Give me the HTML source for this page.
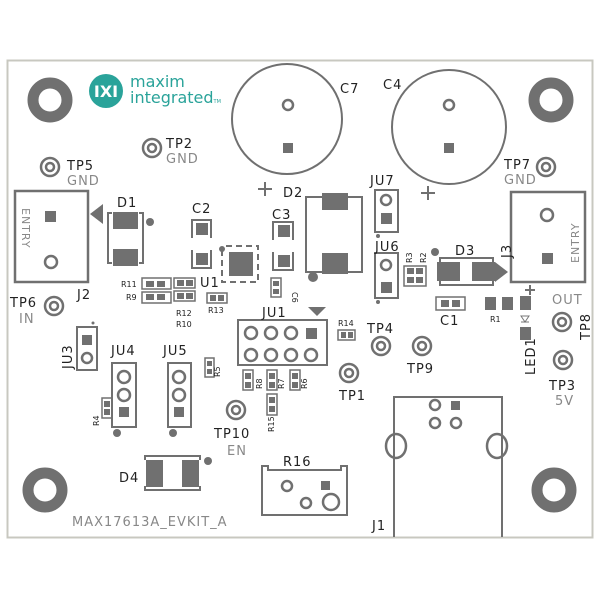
<!DOCTYPE html>
<html><head><meta charset="utf-8"><style>
html,body{margin:0;padding:0;background:#fff;}
svg{display:block;}
text{font-family:"DejaVu Sans","Liberation Sans",sans-serif;}
</style></head><body>
<svg width="600" height="600" viewBox="0 0 600 600" xmlns="http://www.w3.org/2000/svg">
<rect x="0" y="0" width="600" height="600" fill="#fff"/>
<rect x="7.5" y="60.5" width="585" height="477" fill="none" stroke="#c8c8c0" stroke-width="2"/>
<g fill="none" stroke="#707070" stroke-width="2.5">
<!-- mounting holes -->
<circle cx="50" cy="100" r="17" stroke-width="11"/>
<circle cx="551" cy="100" r="17" stroke-width="11"/>
<circle cx="45" cy="490" r="17" stroke-width="11"/>
<circle cx="554" cy="490" r="17" stroke-width="11"/>
<!-- C7 C4 -->
<circle cx="287" cy="119" r="55" stroke-width="2"/>
<circle cx="449" cy="127" r="57" stroke-width="2"/>
<circle cx="288" cy="105" r="5"/>
<circle cx="449" cy="105" r="5"/>
<!-- TPs -->
<circle cx="152" cy="148" r="9"/><circle cx="152" cy="148" r="4"/>
<circle cx="50" cy="167" r="9"/><circle cx="50" cy="167" r="4"/>
<circle cx="546" cy="167" r="9"/><circle cx="546" cy="167" r="4"/>
<circle cx="54" cy="306" r="9"/><circle cx="54" cy="306" r="4"/>
<circle cx="562" cy="322" r="9"/><circle cx="562" cy="322" r="4"/>
<circle cx="563" cy="360" r="9"/><circle cx="563" cy="360" r="4"/>
<circle cx="381" cy="346" r="9"/><circle cx="381" cy="346" r="4"/>
<circle cx="422" cy="346" r="9"/><circle cx="422" cy="346" r="4"/>
<circle cx="349" cy="373" r="9"/><circle cx="349" cy="373" r="4"/>
<circle cx="236" cy="410" r="9"/><circle cx="236" cy="410" r="4"/>
<!-- J2 -->
<rect x="15" y="191" width="73" height="91"/>
<circle cx="51" cy="262" r="6"/>
<!-- J3 -->
<rect x="511" y="192" width="74" height="90"/>
<circle cx="547" cy="215" r="6"/>
<!-- D1 bracket -->
<path d="M112 213 H108 V263 H112 M139 213 H143 V263 H139" stroke-width="2"/>
<!-- C2 C3 outlines -->
<path d="M192 238 V220 H211 V238 M192 250 V268 H211 V250" stroke-width="2"/>
<path d="M273 240 V222 H293 V240 M273 252 V270 H293 V252" stroke-width="2"/>
<!-- U1 -->
<path d="M226 246 H258 V282 H222 V250" stroke-width="2" stroke-dasharray="6 4"/>
<!-- D2 -->
<path d="M322 197 H306 V272 H322 M348 197 H362 V272 H348" stroke-width="2"/>
<!-- JU7 JU6 -->
<rect x="375" y="190" width="23" height="42" stroke-width="2"/>
<circle cx="386" cy="200" r="5"/>
<rect x="375" y="253" width="23" height="45" stroke-width="2"/>
<circle cx="386" cy="265" r="5"/>
<!-- D3 -->
<path d="M440 262 V258 H493 V262 M440 281 V285 H493 V281" stroke-width="2"/>
<!-- JU1 -->
<rect x="238" y="320" width="89" height="45" stroke-width="2"/>
<circle cx="251" cy="333" r="6"/><circle cx="271" cy="333" r="6"/><circle cx="291" cy="333" r="6"/>
<circle cx="251" cy="355" r="6"/><circle cx="271" cy="355" r="6"/><circle cx="291" cy="355" r="6"/><circle cx="311" cy="355" r="6"/>
<!-- JU3 JU4 JU5 -->
<rect x="77" y="327" width="20" height="43" stroke-width="2"/>
<circle cx="87" cy="358" r="5"/>
<rect x="112" y="363" width="24" height="64" stroke-width="2"/>
<circle cx="124" cy="377" r="6"/><circle cx="124" cy="395" r="6"/>
<rect x="168" y="363" width="23" height="64" stroke-width="2"/>
<circle cx="179" cy="377" r="6"/><circle cx="179" cy="395" r="6"/>
<!-- D4 -->
<path d="M145 460 V456 H200 V460 M145 486 V490 H200 V486" stroke-width="2"/>
<!-- R16 -->
<path d="M262 466 H268 V470 H341 V466 H347 V515 H262 Z" stroke-width="2"/>
<circle cx="287" cy="486" r="5"/><circle cx="306" cy="503" r="5"/><circle cx="331" cy="502" r="8"/>
<!-- J1 -->
<path d="M394 537 V397 H502 V537" stroke-width="2"/>
<circle cx="435" cy="405" r="5"/><circle cx="435" cy="423" r="5"/><circle cx="456" cy="423" r="5"/>
<ellipse cx="396" cy="446" rx="10" ry="12"/><ellipse cx="497" cy="446" rx="10" ry="12"/>
<!-- plus signs -->
<path d="M258 189 H272 M265 182 V196 M421 193 H435 M428 186 V200 M525 290 H535 M530 285 V295" stroke-width="2"/>
<!-- small component outlines -->
<g stroke-width="1.5">
<rect x="142" y="278" width="29" height="11"/><rect x="142" y="292" width="29" height="11"/>
<rect x="174" y="278" width="21" height="10"/><rect x="174" y="291" width="21" height="10"/>
<rect x="207" y="293" width="20" height="10"/>
<rect x="271" y="278" width="10" height="19"/>
<rect x="404" y="266" width="22" height="20"/>
<rect x="436" y="297" width="29" height="13"/>
<rect x="338" y="330" width="17" height="10"/>
<rect x="205" y="358" width="9" height="19"/>
<rect x="102" y="398" width="10" height="20"/>
<rect x="243" y="370" width="10" height="20"/><rect x="267" y="370" width="10" height="20"/><rect x="290" y="370" width="10" height="20"/>
<rect x="267" y="394" width="10" height="21"/>
</g>
</g>
<!-- filled pads -->
<g fill="#707070">
<rect x="283" y="143" width="10" height="10"/>
<rect x="444" y="143" width="10" height="10"/>
<rect x="45" y="211" width="11" height="11"/>
<rect x="542" y="253" width="11" height="11"/>
<rect x="113" y="212" width="25" height="17"/><rect x="113" y="249" width="25" height="17"/>
<circle cx="150" cy="222" r="4"/>
<rect x="196" y="223" width="12" height="12"/><rect x="196" y="253" width="12" height="12"/>
<rect x="278" y="225" width="12" height="12"/><rect x="278" y="255" width="12" height="12"/>
<rect x="229" y="252" width="24" height="24"/>
<circle cx="222" cy="249" r="3"/>
<rect x="322" y="193" width="26" height="17"/><rect x="322" y="253" width="26" height="21"/>
<circle cx="313" cy="277" r="5"/>
<rect x="381" y="213" width="11" height="11"/>
<rect x="381" y="282" width="11" height="11"/>
<circle cx="378" cy="236" r="2"/><circle cx="378" cy="302" r="2"/>
<rect x="437" y="262" width="23" height="19"/><rect x="472" y="262" width="23" height="19"/>
<circle cx="435" cy="252" r="4"/>
<polygon points="495,262 508,272 495,282"/>
<polygon points="103,204 103,224 90,214"/>
<rect x="485" y="297" width="11" height="13"/><rect x="502" y="297" width="11" height="13"/>
<rect x="520" y="296" width="11" height="14"/><rect x="520" y="327" width="11" height="13"/>
<rect x="306" y="328" width="11" height="11"/>
<polygon points="308,307 326,307 317,316"/>
<rect x="82" y="335" width="10" height="10"/>
<circle cx="93" cy="323" r="1.5"/>
<rect x="119" y="407" width="10" height="10"/>
<rect x="174" y="407" width="10" height="10"/>
<circle cx="117" cy="433" r="4"/><circle cx="173" cy="433" r="4"/>
<rect x="146" y="460" width="17" height="27"/><rect x="182" y="460" width="17" height="27"/>
<circle cx="208" cy="461" r="4"/>
<rect x="321" y="481" width="9" height="9"/>
<rect x="451" y="401" width="9" height="9"/>
<g>
<rect x="146" y="281" width="8" height="6"/><rect x="157" y="281" width="8" height="6"/>
<rect x="146" y="294" width="8" height="6"/><rect x="157" y="294" width="8" height="6"/>
<rect x="177" y="280" width="7" height="6"/><rect x="186" y="280" width="7" height="6"/>
<rect x="177" y="293" width="7" height="6"/><rect x="186" y="293" width="7" height="6"/>
<rect x="210" y="295" width="6" height="6"/><rect x="218" y="295" width="6" height="6"/>
<rect x="273" y="281" width="6" height="5"/><rect x="273" y="289" width="6" height="5"/>
<rect x="407" y="268" width="7" height="6"/><rect x="416" y="268" width="7" height="6"/>
<rect x="407" y="277" width="7" height="6"/><rect x="416" y="277" width="7" height="6"/>
<rect x="441" y="300" width="8" height="7"/><rect x="452" y="300" width="8" height="7"/>
<rect x="341" y="332" width="5" height="6"/><rect x="348" y="332" width="5" height="6"/>
<rect x="207" y="361" width="5" height="5"/><rect x="207" y="369" width="5" height="5"/>
<rect x="104" y="401" width="6" height="6"/><rect x="104" y="409" width="6" height="6"/>
<rect x="245" y="373" width="6" height="6"/><rect x="245" y="382" width="6" height="6"/>
<rect x="269" y="373" width="6" height="6"/><rect x="269" y="382" width="6" height="6"/>
<rect x="292" y="373" width="6" height="6"/><rect x="292" y="382" width="6" height="6"/>
<rect x="269" y="397" width="6" height="6"/><rect x="269" y="406" width="6" height="6"/>
</g>
</g>
<!-- logo -->
<circle cx="106" cy="91" r="17" fill="#2aa39a"/>
<text x="106" y="97" font-size="16" font-weight="bold" fill="#fff" text-anchor="middle">ІXI</text>
<text x="130" y="87" font-size="16" fill="#2aa39a">maxim</text>
<text x="130" y="103" font-size="16" fill="#2aa39a">integrated<tspan font-size="5">TM</tspan></text>
<!-- labels dark -->
<g fill="#222" font-size="13" letter-spacing="1">
<text x="340" y="93">C7</text><text x="383" y="89">C4</text>
<text x="166" y="148">TP2</text><text x="67" y="170">TP5</text>
<text x="504" y="169">TP7</text>
<text x="117" y="207">D1</text><text x="192" y="213">C2</text><text x="272" y="219">C3</text>
<text x="283" y="197">D2</text><text x="370" y="185">JU7</text><text x="375" y="251">JU6</text>
<text x="455" y="255">D3</text><text x="200" y="287">U1</text>
<text x="77" y="299">J2</text><text x="10" y="307">TP6</text>
<text x="440" y="325">C1</text><text x="262" y="317">JU1</text>
<text x="367" y="333">TP4</text><text x="407" y="373">TP9</text><text x="339" y="400">TP1</text>
<text x="111" y="355">JU4</text><text x="163" y="355">JU5</text>
<text x="214" y="438">TP10</text><text x="549" y="390">TP3</text>
<text x="119" y="482">D4</text><text x="283" y="466">R16</text><text x="372" y="530">J1</text>
<text transform="translate(72,369) rotate(-90)">JU3</text>
<text transform="translate(511,258) rotate(-90)">J3</text>
<text transform="translate(535,375) rotate(-90)">LED1</text>
<text transform="translate(590,340) rotate(-90)">TP8</text>
</g>
<g fill="#222" font-size="8">
<text x="121" y="287">R11</text><text x="126" y="300">R9</text>
<text x="176" y="316">R12</text><text x="176" y="327">R10</text>
<text x="208" y="313">R13</text><text x="338" y="326">R14</text><text x="490" y="322">R1</text>
<text transform="translate(292,292) rotate(90)">C6</text>
<text transform="translate(412,263) rotate(-90)">R3</text>
<text transform="translate(426,263) rotate(-90)">R2</text>
<text transform="translate(220,377) rotate(-90)">R5</text>
<text transform="translate(99,426) rotate(-90)">R4</text>
<text transform="translate(262,389) rotate(-90)">R8</text>
<text transform="translate(284,389) rotate(-90)">R7</text>
<text transform="translate(307,389) rotate(-90)">R6</text>
<text transform="translate(274,432) rotate(-90)">R15</text>
</g>
<g fill="#888" font-size="13" letter-spacing="1">
<text x="166" y="163">GND</text><text x="67" y="185">GND</text><text x="504" y="184">GND</text>
<text x="19" y="323">IN</text><text x="552" y="304">OUT</text><text x="555" y="405">5V</text>
<text x="227" y="455">EN</text>
<text x="72" y="526">MAX17613A_EVKIT_A</text>
<text transform="translate(22,208) rotate(90)" font-size="11">ENTRY</text>
<text transform="translate(579,263) rotate(-90)" font-size="11">ENTRY</text>
</g>
<path d="M521 316 L529 316 L525 322 Z M521 322 H529" fill="none" stroke="#777" stroke-width="1"/>
</svg>
</body></html>
